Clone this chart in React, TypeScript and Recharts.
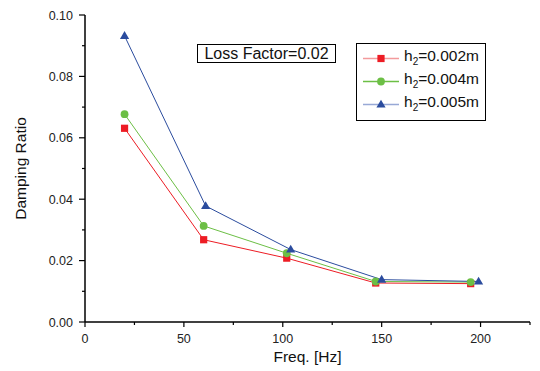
import React from "react";
import { LineChart, Line, XAxis, YAxis, Legend } from "recharts";

// frequency [Hz] and damping ratio for each thickness h2
const freq002 = [20, 60, 102, 147, 195];
const ratio002 = [0.0631, 0.0268, 0.0208, 0.0127, 0.0125];
const freq004 = [20, 60, 102, 147, 195];
const ratio004 = [0.0677, 0.0313, 0.0224, 0.0132, 0.013];
const freq005 = [20, 61, 104, 150, 199];
const ratio005 = [0.0932, 0.0378, 0.0236, 0.0138, 0.0132];

const thicknesses = ["0.002", "0.004", "0.005"];
const xTicks = [0, 25, 50, 75, 100, 125, 150, 175, 200, 225];
const yTicks = [0, 0.01, 0.02, 0.03, 0.04, 0.05, 0.06, 0.07, 0.08, 0.09, 0.1];
const lossFactorLabel = "Loss Factor=0.02";

const FONT = "'Liberation Sans', Arial, sans-serif";

type Shape = "square" | "circle" | "triangle";

const toRows = (f: number[], r: number[]) =>
  f.map((v, i) => ({ freq: v, ratio: r[i] }));

const series = [
  { h: thicknesses[0], data: toRows(freq002, ratio002), color: "#ed1c24", legendLine: "#f39a9c", shape: "square" as Shape },
  { h: thicknesses[1], data: toRows(freq004, ratio004), color: "#6cbf45", legendLine: "#6cbf45", shape: "circle" as Shape },
  { h: thicknesses[2], data: toRows(freq005, ratio005), color: "#2b4c9e", legendLine: "#98a9d6", shape: "triangle" as Shape },
];

function marker(shape: Shape, cx: number, cy: number, color: string, key?: any) {
  if (shape === "square")
    return <rect key={key} x={cx - 3.6} y={cy - 3.6} width={7.2} height={7.2} fill={color} />;
  if (shape === "circle")
    return <circle key={key} cx={cx} cy={cy} r={3.9} fill={color} />;
  return (
    <polygon
      key={key}
      points={`${cx},${cy - 4.8} ${cx + 4.6},${cy + 3} ${cx - 4.6},${cy + 3}`}
      fill={color}
    />
  );
}

const XTick = (props: any) => {
  const { x, y, payload } = props;
  const major = payload.value % 50 === 0;
  return (
    <g>
      <line x1={x} x2={x} y1={y} y2={y + (major ? 5 : 3)} stroke="#000" strokeWidth={1.2} />
      {major && (
        <text x={x} y={y + 21} textAnchor="middle" fontSize={12.5} fontFamily={FONT} fill="#222">
          {payload.value}
        </text>
      )}
    </g>
  );
};

const YTick = (props: any) => {
  const { x, y, payload } = props;
  const major = Math.round(payload.value * 100) % 2 === 0;
  return (
    <g>
      <line x1={x} x2={x - (major ? 6 : 3)} y1={y} y2={y} stroke="#000" strokeWidth={1.2} />
      {major && (
        <text x={x - 12} y={y} dy="0.36em" textAnchor="end" fontSize={12.5} fontFamily={FONT} fill="#222">
          {payload.value.toFixed(2)}
        </text>
      )}
    </g>
  );
};

const LegendBox = () => (
  <div
    style={{
      border: "1.5px solid #000",
      background: "#fff",
      boxSizing: "border-box",
      width: 130,
      height: 78,
      paddingTop: 3,
      fontFamily: FONT,
      fontSize: 15.5,
      color: "#111",
    }}
  >
    {series.map((s) => (
      <div key={s.h} style={{ display: "flex", alignItems: "center", height: 23, paddingLeft: 6 }}>
        <svg width={36} height={23} style={{ display: "block" }}>
          <line x1={0} x2={36} y1={11.5} y2={11.5} stroke={s.legendLine} strokeWidth={1.5} />
          {marker(s.shape, 18, 11.5, s.color)}
        </svg>
        <span style={{ marginLeft: 5, whiteSpace: "nowrap", lineHeight: "23px" }}>
          h<sub style={{ fontSize: 10, verticalAlign: -4 }}>2</sub>={s.h}m
        </span>
      </div>
    ))}
  </div>
);

export default function App() {
  return (
    <div style={{ position: "absolute", left: 0, top: 0, width: 540, height: 371, background: "#fff" }}>
      <LineChart width={540} height={371} margin={{ top: 15, right: 10, bottom: 9, left: 0 }}>
        <XAxis
          type="number"
          dataKey="freq"
          domain={[0, 225]}
          ticks={xTicks}
          interval={0}
          height={40}
          tickSize={0}
          tickMargin={0}
          tick={<XTick />}
          axisLine={{ stroke: "#000", strokeWidth: 1.5 }}
          label={{ value: "Freq. [Hz]", position: "insideBottom", offset: 0, fontSize: 15.5, fontFamily: FONT, fill: "#111" }}
          allowDuplicatedCategory={false}
        />
        <YAxis
          type="number"
          domain={[0, 0.1]}
          ticks={yTicks}
          interval={0}
          width={85}
          tickSize={0}
          tickMargin={0}
          tick={<YTick />}
          axisLine={{ stroke: "#000", strokeWidth: 1.5 }}
          label={{
            content: (p: any) => {
              const vb = p.viewBox;
              const cy = vb.y + vb.height / 2;
              return (
                <text
                  x={26}
                  y={cy}
                  transform={`rotate(-90, 26, ${cy})`}
                  textAnchor="middle"
                  fontSize={15.5}
                  fontFamily={FONT}
                  fill="#111"
                >
                  Damping Ratio
                </text>
              );
            },
          }}
        />
        {series.map((s) => (
          <Line
            key={s.h}
            data={s.data}
            dataKey="ratio"
            name={s.h}
            stroke={s.color}
            strokeWidth={1}
            isAnimationActive={false}
            dot={(p: any) => marker(s.shape, p.cx, p.cy, s.color, p.index)}
            activeDot={false}
          />
        ))}
        <Legend
          layout="horizontal"
          verticalAlign="middle"
          align="center"
          content={() => <LegendBox />}
          wrapperStyle={{ position: "absolute", left: 356, top: 43, width: 130, height: 78 }}
        />
      </LineChart>
      <div
        style={{
          position: "absolute",
          left: 197,
          top: 44,
          width: 139,
          height: 19,
          boxSizing: "border-box",
          border: "1px solid #000",
          fontFamily: FONT,
          fontSize: 16,
          lineHeight: "17px",
          textAlign: "center",
          color: "#111",
          background: "#fff",
        }}
      >
        {lossFactorLabel}
      </div>
    </div>
  );
}
